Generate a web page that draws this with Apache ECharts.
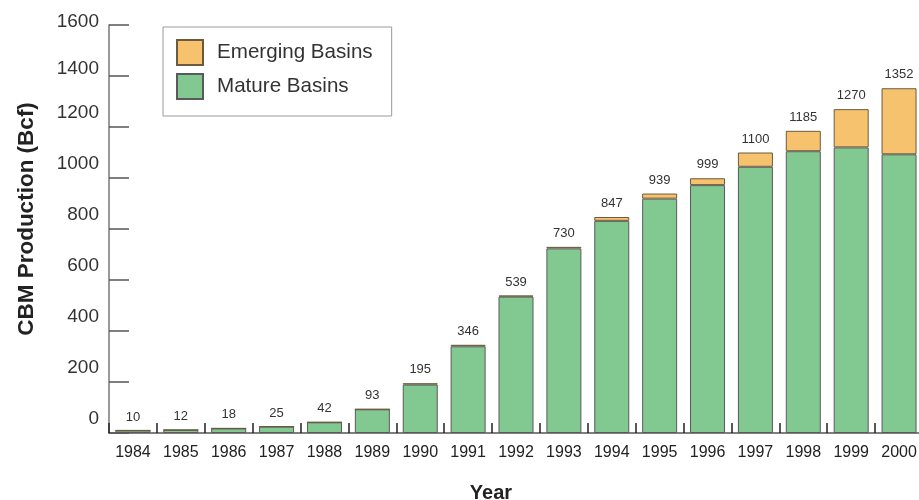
<!DOCTYPE html>
<html>
<head>
<meta charset="utf-8">
<script src="https://cdn.jsdelivr.net/npm/echarts@6/dist/echarts.min.js"></script>
<style>
html,body{margin:0;padding:0;background:#fff;}
#chart{width:919px;height:500px;}
</style>
</head>
<body>
<div id="chart"></div>
<script>
var years = ['1984','1985','1986','1987','1988','1989','1990','1991','1992','1993','1994','1995','1996','1997','1998','1999','2000'];
var mature = [10, 12, 18, 25, 42, 93, 190, 340, 535, 724, 832, 919, 972, 1044, 1105, 1120, 1093];
var emerging = [0, 0, 0, 0, 0, 0, 5, 6, 4, 6, 15, 20, 27, 56, 80, 150, 259];
var totals = [10, 12, 18, 25, 42, 93, 195, 346, 539, 730, 847, 939, 999, 1100, 1185, 1270, 1352];
var yTicks = [0, 200, 400, 600, 800, 1000, 1200, 1400, 1600];

var chart = echarts.init(document.getElementById('chart'), null, {renderer: 'canvas'});
var font = 'Liberation Sans, Arial, Helvetica, sans-serif';
var zeros = years.map(function(){ return 0; });

chart.setOption({
  animation: false,
  backgroundColor: '#ffffff',
  textStyle: {fontFamily: font},
  grid: {left: 109, top: 25, width: 814, height: 408, containLabel: false, outerBoundsMode: 'none'},
  legend: {
    data: ['Emerging Basins', 'Mature Basins'],
    orient: 'vertical',
    left: 163,
    top: 27,
    padding: [12, 19, 16, 13],
    itemWidth: 26,
    itemHeight: 25,
    itemGap: 7,
    borderColor: '#9a9a9a',
    borderWidth: 1,
    icon: 'rect',
    selectedMode: false,
    textStyle: {fontSize: 20.6, color: '#333', fontFamily: font, padding: [0, 0, 0, 9]}
  },
  xAxis: {
    type: 'category',
    data: years,
    name: 'Year',
    nameLocation: 'middle',
    nameGap: 50,
    nameTextStyle: {fontSize: 20, fontWeight: 'bold', color: '#222', padding: [0, 50, 0, 0]},
    axisLine: {show: true, lineStyle: {color: '#555', width: 1.5}},
    axisTick: {show: true, inside: true, length: 10, alignWithLabel: false, lineStyle: {color: '#222', width: 1.5}},
    axisLabel: {fontSize: 16, color: '#222', margin: 12, interval: 0}
  },
  yAxis: {
    type: 'value',
    min: 0,
    max: 1600,
    interval: 200,
    name: 'CBM Production (Bcf)',
    nameLocation: 'middle',
    nameGap: 71,
    nameTextStyle: {fontSize: 22.5, fontWeight: 'bold', color: '#222', padding: [0, 0, 0, 20]},
    axisLine: {show: true, lineStyle: {color: '#777', width: 1.5}},
    axisTick: {show: true, inside: true, length: 20, lineStyle: {color: '#555', width: 1.5}},
    splitLine: {show: false},
    axisLabel: {
      fontSize: 19, color: '#333', margin: 10, verticalAlign: 'middle',
      formatter: function(v){
        if (yTicks.indexOf(v) < 0) return '';
        if (v === 1600) return '{t|' + v + '}';
        if (v === 1400) return '{s|' + v + '}';
        return '{n|' + v + '}';
      },
      rich: {
        t: {fontSize: 19, color: '#333', padding: [0, 0, 7, 0]},
        s: {fontSize: 19, color: '#333', padding: [0, 0, 15, 0]},
        n: {fontSize: 19, color: '#333', padding: [0, 0, 29, 0]}
      }
    }
  },
  series: [
    {
      name: 'Mature Basins',
      type: 'bar',
      stack: 'total',
      data: mature,
      barWidth: 35,
      itemStyle: {color: '#82c891', borderColor: '#5a5a5a', borderWidth: 1}
    },
    {
      name: 'Emerging Basins',
      type: 'bar',
      stack: 'total',
      data: emerging,
      barWidth: 35,
      itemStyle: {color: '#f6c26e', borderColor: '#6b5a40', borderWidth: 1}
    },
    {
      name: 'Total',
      type: 'bar',
      stack: 'total',
      data: zeros,
      barWidth: 35,
      itemStyle: {color: 'rgba(0,0,0,0)', borderWidth: 0},
      label: {
        show: true,
        position: 'top',
        distance: 7,
        fontSize: 13,
        color: '#333',
        formatter: function(p){ return String(totals[p.dataIndex]); }
      }
    }
  ]
});
</script>
</body>
</html>
